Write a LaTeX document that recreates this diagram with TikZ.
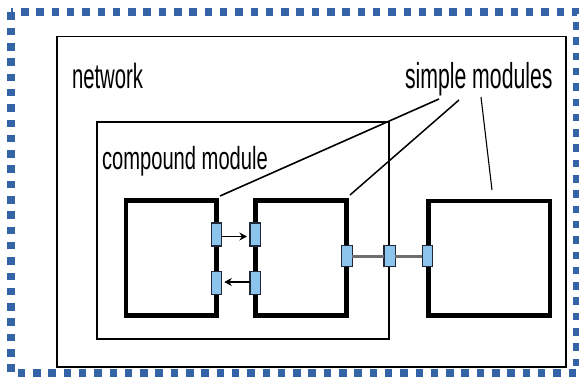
\documentclass[tikz,border=0pt]{standalone}
\usepackage{graphicx}
\usepackage{fontspec}
\setmainfont{Liberation Sans}
\usetikzlibrary{arrows.meta}

\definecolor{framedot}{RGB}{52,99,168}
\definecolor{gatefill}{RGB}{141,196,238}
\definecolor{gateline}{RGB}{30,40,55}
\definecolor{linkgray}{RGB}{110,110,110}

\tikzset{
  frame/.style={draw=black, line width=#1, inner sep=0pt, outer sep=0pt, fill=none},
  simplebox/.style={draw=black, line width=4.6pt, inner sep=0pt, outer sep=0pt, fill=white},
  gate/.style={draw=gateline, line width=1.2pt, fill=gatefill, inner sep=0pt,
    outer sep=0pt, minimum width=9.8pt, minimum height=22pt},
  lbl/.style={inner sep=0pt, outer sep=0pt, anchor=base west},
  msg/.style={line width=1.8pt, -{Stealth[length=7.5pt,width=8pt]}, shorten >=3pt},
  link/.style={draw=linkgray, line width=2.8pt},
  leader/.style={draw=black, line width=#1},
}

\begin{document}
\begin{tikzpicture}[x=1pt,y=-1pt]
  \useasboundingbox (0,0) rectangle (579,379);

  % outer dotted border
  \draw[framedot, line width=7.5pt, dash pattern=on 7.5pt off 7.8pt, dash phase=5.3pt]
    (11,12) -- (577,12) -- (577,373) -- (11,373) -- cycle;

  % network and compound module frames
  \node[frame=1.6pt, minimum width=509pt, minimum height=330.6pt] (network) at (311.5,202) {};
  \node[frame=1.3pt, minimum width=292pt, minimum height=217pt] (compound) at (243,230.5) {};

  % labels
  \node[lbl] (netlbl) at (72,88.3) {\fontsize{35}{40}\selectfont\scalebox{0.58}[1]{network}};
  \node[lbl] (cmplbl) at (102,170) {\fontsize{32}{38}\selectfont\scalebox{0.63}[1]{compound module}};
  \node[lbl] (simlbl) at (405,88.3) {\fontsize{36}{42}\selectfont\scalebox{0.59}[1]{simple modules}};

  % simple modules
  \node[simplebox, minimum width=90.7pt, minimum height=115pt] (b1) at (171.35,258.2) {};
  \node[simplebox, minimum width=91pt, minimum height=115pt] (b2) at (301.2,258.2) {};
  \node[simplebox, minimum width=121.7pt, minimum height=114.7pt] (b3) at (489.15,258.35) {};

  % gates
  \node[gate, minimum height=23pt] (g1a) at (216.4,234.5) {};
  \node[gate, minimum height=23pt] (g1b) at (216.4,283) {};
  \node[gate, minimum width=10.5pt, minimum height=23pt] (g2a) at (255.2,234.5) {};
  \node[gate, minimum width=10.5pt, minimum height=23pt] (g2b) at (255.2,283) {};
  \node[gate, minimum width=10.5pt, minimum height=21.2pt] (g2c) at (346.9,256.2) {};
  \node[gate, minimum width=11.2pt, minimum height=21.2pt] (gm) at (389.5,256.2) {};
  \node[gate, minimum width=9.9pt, minimum height=21.2pt] (g3) at (427.2,256.2) {};

  % connections inside the compound module
  \draw[msg] ([yshift=-2pt]g1a.east) -- ([yshift=-2pt]g2a.west);
  \draw[msg] ([yshift=1pt]g2b.west) -- ([yshift=1pt]g1b.east);

  % connections through the compound module boundary
  \draw[link] (g2c.east) -- (gm.west);
  \draw[link] (gm.east) -- (g3.west);

  % leader lines from the label
  \coordinate (l1s) at (439,99);
  \coordinate (l1e) at (220,196);
  \coordinate (l2s) at (459,100);
  \coordinate (l2e) at (350,195);
  \coordinate (l3s) at (481,97);
  \coordinate (l3e) at (492,190);
  \draw[leader=1.6pt] (l1s) -- (l1e);
  \draw[leader=1.5pt] (l2s) -- (l2e);
  \draw[leader=1.1pt] (l3s) -- (l3e);
\end{tikzpicture}
\end{document}
